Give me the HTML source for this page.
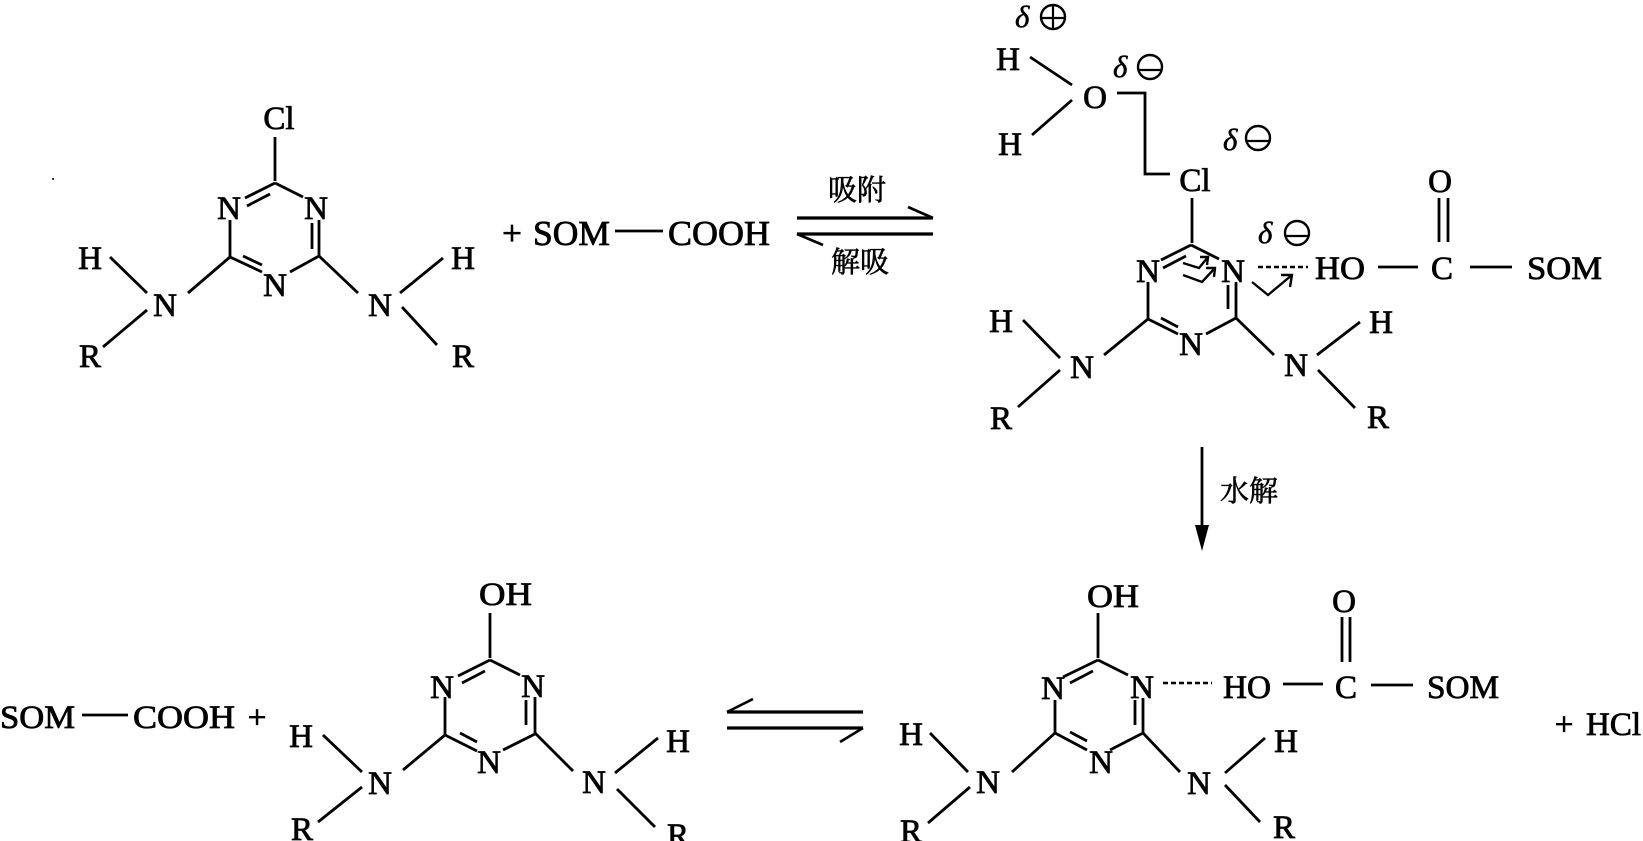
<!DOCTYPE html>
<html>
<head>
<meta charset="utf-8">
<style>
  html,body{margin:0;padding:0;background:#fff;}
  body{width:1643px;height:841px;overflow:hidden;}
  svg{display:block;}
  .t{font-family:"Liberation Serif","Noto Serif CJK SC",serif;font-size:33px;fill:#000;stroke:#000;stroke-width:0.8;}
  .big{font-size:35px;}
  .cjk{font-family:"Liberation Serif","Noto Serif CJK SC","Noto Sans CJK SC",serif;font-size:29px;fill:#000;stroke:#000;stroke-width:0.6;}
  .d{font-family:"Liberation Serif",serif;font-style:italic;font-size:31px;fill:#000;stroke:#000;stroke-width:0.5;}
  line,polyline,path{stroke:#000;stroke-width:2.8;fill:none;stroke-linecap:butt;}
  .c{fill:none;stroke:#000;stroke-width:2.4;}
</style>
</head>
<body>
<svg width="1643" height="841" viewBox="0 0 1643 841" xmlns="http://www.w3.org/2000/svg">
<rect width="1643" height="841" fill="#fff"/>

<!-- ================= Ring 1 (top-left) ================= -->
<circle cx="53" cy="179" r="1" fill="#000"/>
<text class="t" x="279" y="129" text-anchor="middle">Cl</text>
<line x1="275" y1="137" x2="275" y2="181"/>
<g transform="translate(275,183)">
  <line x1="0" y1="0" x2="-30" y2="15"/>
  <line x1="-5" y1="11" x2="-28" y2="23"/>
  <line x1="0" y1="0" x2="28" y2="14"/>
  <line x1="-45" y1="37" x2="-45" y2="74"/>
  <line x1="44" y1="37" x2="44" y2="73"/>
  <line x1="37" y1="40" x2="37" y2="66"/>
  <line x1="-45" y1="74" x2="-13" y2="89"/>
  <line x1="-32" y1="73" x2="-13" y2="82"/>
  <line x1="15" y1="89" x2="44" y2="73"/>
  <line x1="-45" y1="74" x2="-87" y2="110"/>
  <line x1="44" y1="73" x2="83" y2="110"/>
  <line x1="-165" y1="74" x2="-128" y2="110"/>
  <line x1="-128" y1="127" x2="-172" y2="164"/>
  <line x1="125" y1="110" x2="168" y2="75"/>
  <line x1="127" y1="124" x2="162" y2="162"/>
  <text class="t" x="-46" y="36" text-anchor="middle">N</text>
  <text class="t" x="41" y="36" text-anchor="middle">N</text>
  <text class="t" x="0" y="113" text-anchor="middle">N</text>
  <text class="t" x="-110" y="133" text-anchor="middle">N</text>
  <text class="t" x="105" y="133" text-anchor="middle">N</text>
  <text class="t" x="-185" y="86" text-anchor="middle">H</text>
  <text class="t" x="-185" y="184" text-anchor="middle">R</text>
  <text class="t" x="188" y="86" text-anchor="middle">H</text>
  <text class="t" x="188" y="184" text-anchor="middle">R</text>
</g>

<!-- + SOM — COOH (top) -->
<text class="t big" x="512" y="245" text-anchor="middle">+</text>
<text class="t big" x="533" y="245" textLength="77" lengthAdjust="spacingAndGlyphs">SOM</text>
<line x1="615" y1="231" x2="663" y2="231"/>
<text class="t big" x="668" y="245" textLength="102" lengthAdjust="spacingAndGlyphs">COOH</text>

<!-- adsorption equilibrium arrows -->
<line x1="797" y1="218" x2="933" y2="218" style="stroke-width:3.2"/>
<line x1="933" y1="218" x2="908" y2="207" style="stroke-width:2.6"/>
<line x1="797" y1="234" x2="933" y2="234" style="stroke-width:3.2"/>
<line x1="797" y1="234" x2="823" y2="245" style="stroke-width:2.6"/>
<text class="cjk" x="857" y="200" text-anchor="middle">吸附</text>
<text class="cjk" x="860" y="272" text-anchor="middle">解吸</text>

<!-- ================= Ring 2 (top-right) ================= -->
<!-- water -->
<text class="d" x="1015" y="27">δ</text>
<circle class="c" cx="1053" cy="17" r="12"/>
<line x1="1041" y1="18" x2="1065" y2="18" style="stroke-width:2.2"/>
<line x1="1053" y1="5" x2="1053" y2="29" style="stroke-width:2.2"/>
<text class="t" x="1008" y="70" text-anchor="middle">H</text>
<text class="t" x="1010" y="155" text-anchor="middle">H</text>
<text class="t" x="1095" y="108" text-anchor="middle">O</text>
<line x1="1030" y1="57" x2="1072" y2="85"/>
<line x1="1072" y1="100" x2="1032" y2="135"/>
<text class="d" x="1113" y="77">δ</text>
<circle class="c" cx="1150" cy="67" r="12"/>
<line x1="1138" y1="70" x2="1162" y2="70" style="stroke-width:2.2"/>
<polyline points="1117,93 1145,93 1145,174 1170,174"/>
<text class="t" x="1195" y="191" text-anchor="middle">Cl</text>
<text class="d" x="1223" y="150">δ</text>
<circle class="c" cx="1258" cy="138" r="12"/>
<line x1="1246" y1="141" x2="1270" y2="141" style="stroke-width:2.2"/>
<line x1="1192" y1="198" x2="1192" y2="243"/>
<g transform="translate(1191,245)">
  <line x1="0" y1="0" x2="-30" y2="15"/>
  <line x1="-5" y1="11" x2="-28" y2="23"/>
  <line x1="0" y1="0" x2="28" y2="14"/>
  <line x1="-43" y1="37" x2="-43" y2="74"/>
  <line x1="45" y1="37" x2="45" y2="73"/>
  <line x1="37" y1="40" x2="37" y2="64"/>
  <line x1="-43" y1="74" x2="-13" y2="89"/>
  <line x1="-30" y1="73" x2="-13" y2="82"/>
  <line x1="15" y1="89" x2="45" y2="73"/>
  <line x1="-43" y1="74" x2="-87" y2="110"/>
  <line x1="45" y1="73" x2="83" y2="110"/>
  <line x1="-168" y1="75" x2="-131" y2="113"/>
  <line x1="-131" y1="125" x2="-173" y2="162"/>
  <line x1="126" y1="110" x2="169" y2="77"/>
  <line x1="127" y1="125" x2="164" y2="163"/>
  <text class="t" x="-43" y="37" text-anchor="middle">N</text>
  <text class="t" x="42" y="37" text-anchor="middle">N</text>
  <text class="t" x="0" y="110" text-anchor="middle">N</text>
  <text class="t" x="-109" y="133" text-anchor="middle">N</text>
  <text class="t" x="105" y="131" text-anchor="middle">N</text>
  <text class="t" x="-190" y="87" text-anchor="middle">H</text>
  <text class="t" x="-190" y="184" text-anchor="middle">R</text>
  <text class="t" x="190" y="88" text-anchor="middle">H</text>
  <text class="t" x="187" y="183" text-anchor="middle">R</text>
</g>
<!-- curved (bent) electron arrows -->
<polyline points="1183,263 1199,268 1208,257" style="stroke-width:2.4"/>
<polyline points="1200,257 1208,257 1207,265" style="stroke-width:2.4"/>
<polyline points="1183,275 1202,282 1215,268" style="stroke-width:2.4"/>
<polyline points="1206,268 1215,268 1214,277" style="stroke-width:2.4"/>
<polyline points="1252,282 1268,295 1292,275" style="stroke-width:2.4"/>
<polyline points="1281,275 1292,275 1290,287" style="stroke-width:2.4"/>
<text class="d" x="1258" y="243">δ</text>
<circle class="c" cx="1297" cy="233" r="12"/>
<line x1="1285" y1="236" x2="1309" y2="236" style="stroke-width:2.2"/>
<line x1="1258" y1="267" x2="1308" y2="267" style="stroke-dasharray:5,3;stroke-width:2.4"/>
<text class="t" x="1315" y="279" textLength="50" lengthAdjust="spacingAndGlyphs">HO</text>
<line x1="1378" y1="267" x2="1418" y2="267"/>
<text class="t" x="1442" y="279" text-anchor="middle">C</text>
<line x1="1439" y1="198" x2="1439" y2="242"/>
<line x1="1448" y1="198" x2="1448" y2="242"/>
<text class="t" x="1440" y="192" text-anchor="middle">O</text>
<line x1="1470" y1="267" x2="1512" y2="267"/>
<text class="t" x="1527" y="279" textLength="75" lengthAdjust="spacingAndGlyphs">SOM</text>

<!-- hydrolysis arrow -->
<line x1="1202" y1="447" x2="1202" y2="530"/>
<polygon points="1195,525 1209,525 1202,551" fill="#000"/>
<text class="cjk" x="1249" y="501" text-anchor="middle">水解</text>

<!-- ================= Bottom-left ================= -->
<text class="t" x="0" y="728" textLength="75" lengthAdjust="spacingAndGlyphs">SOM</text>
<line x1="82" y1="715" x2="128" y2="715"/>
<text class="t" x="133" y="728" textLength="102" lengthAdjust="spacingAndGlyphs">COOH</text>
<text class="t" x="257" y="728" text-anchor="middle">+</text>

<text class="t" x="479" y="605" textLength="53" lengthAdjust="spacingAndGlyphs">OH</text>
<line x1="490" y1="613" x2="490" y2="658"/>
<g transform="translate(490,660)">
  <line x1="0" y1="0" x2="-32" y2="16"/>
  <line x1="-5" y1="11" x2="-28" y2="23"/>
  <line x1="0" y1="0" x2="30" y2="15"/>
  <line x1="-45" y1="37" x2="-45" y2="75"/>
  <line x1="45" y1="37" x2="45" y2="73"/>
  <line x1="36" y1="40" x2="36" y2="65"/>
  <line x1="-45" y1="75" x2="-13" y2="91"/>
  <line x1="-30" y1="73" x2="-13" y2="82"/>
  <line x1="13" y1="90" x2="45" y2="74"/>
  <line x1="-45" y1="75" x2="-87" y2="110"/>
  <line x1="45" y1="73" x2="83" y2="111"/>
  <line x1="-167" y1="75" x2="-128" y2="112"/>
  <line x1="-128" y1="127" x2="-172" y2="162"/>
  <line x1="125" y1="113" x2="168" y2="78"/>
  <line x1="127" y1="129" x2="165" y2="167"/>
  <text class="t" x="-48" y="38" text-anchor="middle">N</text>
  <text class="t" x="43" y="37" text-anchor="middle">N</text>
  <text class="t" x="-1" y="113" text-anchor="middle">N</text>
  <text class="t" x="-110" y="134" text-anchor="middle">N</text>
  <text class="t" x="104" y="133" text-anchor="middle">N</text>
  <text class="t" x="-189" y="87" text-anchor="middle">H</text>
  <text class="t" x="-188" y="180" text-anchor="middle">R</text>
  <text class="t" x="188" y="92" text-anchor="middle">H</text>
  <text class="t" x="188" y="186" text-anchor="middle">R</text>
</g>

<!-- bottom equilibrium arrows -->
<line x1="727" y1="712" x2="863" y2="712" style="stroke-width:3.2"/>
<line x1="727" y1="712" x2="753" y2="699" style="stroke-width:2.6"/>
<line x1="727" y1="728" x2="863" y2="728" style="stroke-width:3.2"/>
<line x1="863" y1="728" x2="840" y2="742" style="stroke-width:2.6"/>

<!-- ================= Bottom-right ================= -->
<text class="t" x="1087" y="607" textLength="52" lengthAdjust="spacingAndGlyphs">OH</text>
<line x1="1098" y1="613" x2="1098" y2="658"/>
<g transform="translate(1098,660)">
  <line x1="0" y1="0" x2="-35" y2="17"/>
  <line x1="-5" y1="11" x2="-28" y2="23"/>
  <line x1="0" y1="0" x2="30" y2="15"/>
  <line x1="-43" y1="40" x2="-43" y2="73"/>
  <line x1="45" y1="38" x2="45" y2="73"/>
  <line x1="37" y1="40" x2="37" y2="65"/>
  <line x1="-43" y1="73" x2="-11" y2="90"/>
  <line x1="-28" y1="72" x2="-11" y2="81"/>
  <line x1="12" y1="90" x2="45" y2="73"/>
  <line x1="-43" y1="73" x2="-86" y2="112"/>
  <line x1="45" y1="73" x2="82" y2="112"/>
  <line x1="-168" y1="73" x2="-130" y2="112"/>
  <line x1="-128" y1="127" x2="-170" y2="163"/>
  <line x1="127" y1="113" x2="167" y2="78"/>
  <line x1="127" y1="125" x2="162" y2="162"/>
  <text class="t" x="-45" y="39" text-anchor="middle">N</text>
  <text class="t" x="44" y="38" text-anchor="middle">N</text>
  <text class="t" x="3" y="113" text-anchor="middle">N</text>
  <text class="t" x="-110" y="133" text-anchor="middle">N</text>
  <text class="t" x="101" y="134" text-anchor="middle">N</text>
  <text class="t" x="-187" y="85" text-anchor="middle">H</text>
  <text class="t" x="-187" y="182" text-anchor="middle">R</text>
  <text class="t" x="188" y="92" text-anchor="middle">H</text>
  <text class="t" x="186" y="178" text-anchor="middle">R</text>
</g>
<line x1="1163" y1="683" x2="1212" y2="683" style="stroke-dasharray:5,3;stroke-width:2.4"/>
<text class="t" x="1223" y="698" textLength="48" lengthAdjust="spacingAndGlyphs">HO</text>
<line x1="1283" y1="684" x2="1323" y2="684"/>
<text class="t" x="1346" y="698" text-anchor="middle">C</text>
<line x1="1342" y1="617" x2="1342" y2="662"/>
<line x1="1350" y1="617" x2="1350" y2="662"/>
<text class="t" x="1344" y="612" text-anchor="middle">O</text>
<line x1="1371" y1="685" x2="1413" y2="685"/>
<text class="t" x="1427" y="698" textLength="72" lengthAdjust="spacingAndGlyphs">SOM</text>
<text class="t" x="1564" y="735" text-anchor="middle">+</text>
<text class="t" x="1586" y="735">HCl</text>
</svg>
</body>
</html>
